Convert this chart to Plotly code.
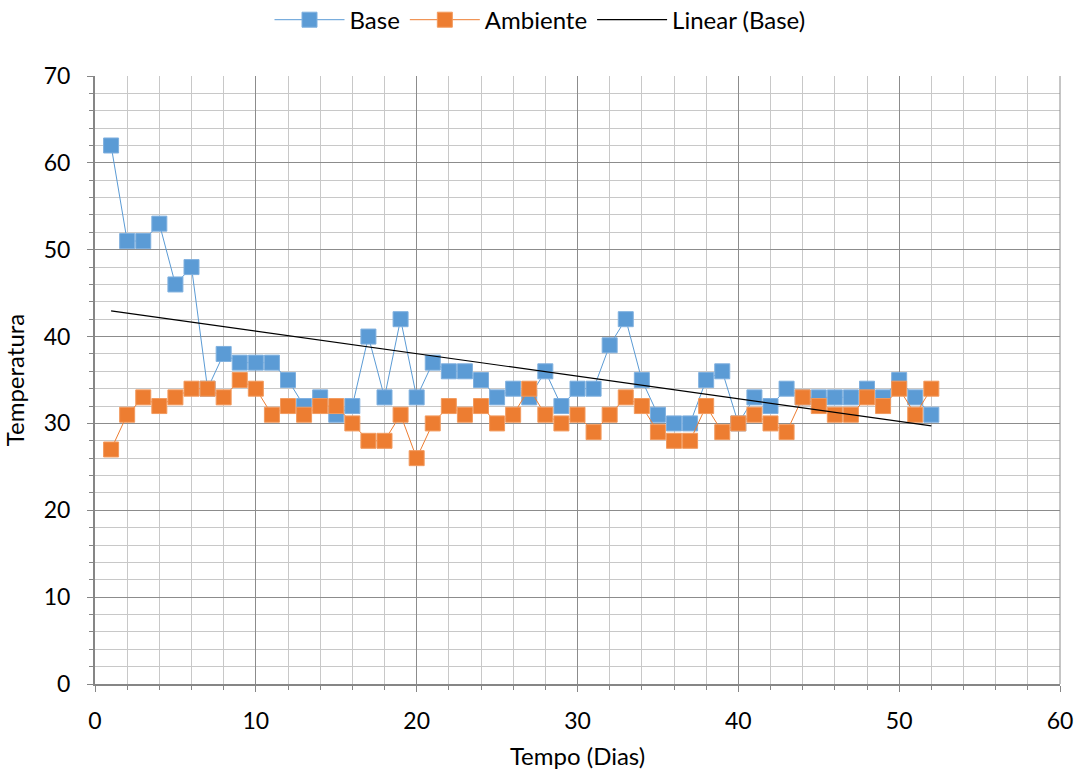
import numpy as np
import plotly.graph_objects as go

# Daily temperature readings
dias = list(range(1, 53))
base = [62, 51, 51, 53, 46, 48, 34, 38, 37, 37,
        37, 35, 32, 33, 31, 32, 40, 33, 42, 33,
        37, 36, 36, 35, 33, 34, 33, 36, 32, 34,
        34, 39, 42, 35, 31, 30, 30, 35, 36, 30,
        33, 32, 34, 33, 33, 33, 33, 34, 33, 35, 33, 31]
ambiente = [27, 31, 33, 32, 33, 34, 34, 33, 35, 34,
            31, 32, 31, 32, 32, 30, 28, 28, 31, 26,
            30, 32, 31, 32, 30, 31, 34, 31, 30, 31,
            29, 31, 33, 32, 29, 28, 28, 32, 29, 30,
            31, 30, 29, 33, 32, 31, 31, 33, 32, 34, 31, 34]

# Least-squares trend of the base series
slope, intercept = np.polyfit(dias, base, 1)
trend = [slope * d + intercept for d in dias]

FONT = "Lato, 'Open Sans', sans-serif"
BLUE = "#5B9BD5"
ORANGE = "#ED7D31"

fig = go.Figure()
fig.add_trace(go.Scatter(
    x=dias, y=base, name="Base", mode="lines+markers",
    line=dict(color=BLUE, width=1),
    marker=dict(symbol="square", size=15, color=BLUE,
                line=dict(color="#7FB0DF", width=1)),
))
fig.add_trace(go.Scatter(
    x=dias, y=ambiente, name="Ambiente", mode="lines+markers",
    line=dict(color=ORANGE, width=1),
    marker=dict(symbol="square", size=15, color=ORANGE,
                line=dict(color="#F29A5E", width=1)),
))
fig.add_trace(go.Scatter(
    x=[dias[0], dias[-1]], y=[trend[0], trend[-1]], name="Linear (Base)",
    mode="lines", line=dict(color="black", width=1.2),
))

axis_common = dict(
    showgrid=True, gridcolor="#8C8C8C", gridwidth=1,
    zeroline=False, showline=True, linecolor="#868686", linewidth=2,
    ticks="outside", ticklen=6, tickcolor="#868686",
    tickfont=dict(family=FONT, size=23, color="black"),
    mirror=False, automargin=False,
)

fig.update_xaxes(
    **axis_common, range=[0, 60], dtick=10, tick0=0, ticklabelstandoff=9,
    minor=dict(dtick=2, showgrid=True, gridcolor="#C8C8C8", gridwidth=1,
               ticks="outside", ticklen=4, tickcolor="#868686"),
    title=dict(text="Tempo (Dias)", font=dict(family=FONT, size=24, color="black"),
               standoff=16),
)
fig.update_yaxes(
    **axis_common, range=[0, 70], dtick=10, tick0=0, ticklabelstandoff=12,
    minor=dict(dtick=2, showgrid=True, gridcolor="#C8C8C8", gridwidth=1,
               ticks="outside", ticklen=4, tickcolor="#868686"),
    title=dict(text="Temperatura", font=dict(family=FONT, size=24, color="black"),
               standoff=18),
)

fig.update_layout(
    width=1080, height=773,
    margin=dict(l=95, r=20, t=76, b=89, autoexpand=False),
    paper_bgcolor="white", plot_bgcolor="white",
    font=dict(family=FONT, color="black"),
    legend=dict(orientation="h", x=0.5, xanchor="center", xref="container",
                y=0.974, yanchor="middle", yref="container",
                font=dict(family=FONT, size=24), itemwidth=70),
    showlegend=True,
)

# Right-hand border of the plot area
fig.add_shape(type="line", xref="paper", yref="paper", x0=1, x1=1, y0=0, y1=1,
              line=dict(color="#8C8C8C", width=1))

fig.write_html("out.html")
